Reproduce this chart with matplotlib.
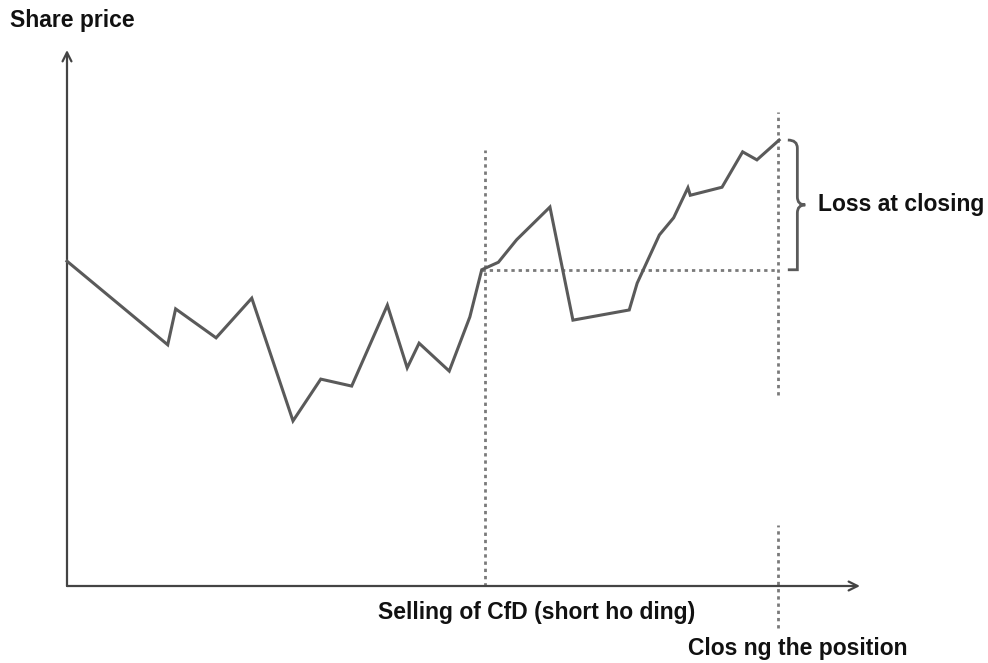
import matplotlib
matplotlib.use('Agg')
import matplotlib.pyplot as plt
from matplotlib.path import Path
from matplotlib.patches import PathPatch

# share price path (time units, price units; origin at axes corner)
t = [0, 12.7, 13.7, 18.8, 23.3, 28.5, 32.0, 35.9, 40.4, 42.9, 44.4, 48.2,
     50.8, 52.3, 54.4, 56.7, 60.9, 63.8, 70.9, 71.9, 74.7, 76.5, 78.3, 78.6,
     82.6, 85.2, 87.0, 89.8]
price = [60.6, 45.0, 51.7, 46.3, 53.7, 30.8, 38.6, 37.3, 52.4, 40.7, 45.3, 40.1,
         50.2, 59.0, 60.4, 64.6, 70.7, 49.6, 51.5, 56.5, 65.5, 68.7, 74.3, 72.9,
         74.4, 81.0, 79.5, 83.2]

t_sell = 52.7
t_close = 89.7
p_entry = 59.0
p_close = 83.2

label_y = "Share price"
label_sell = "Selling of CfD (short ho ding)"
label_close = "Clos ng the position"
label_loss = "Loss at closing"

plt.rcParams['font.family'] = ['Liberation Sans', 'DejaVu Sans']

W, H = 988, 663
fig = plt.figure(figsize=(W / 100, H / 100), dpi=100)
ax = fig.add_axes([67 / W, (H - 586) / H, (860 - 67) / W, (586 - 50) / H])
ax.set_xlim(0, 100)
ax.set_ylim(0, 100)
ax.axis('off')

line_c = '#5a5a5a'
dot_c = '#7a7a7a'
dots = (0, (1.2, 1.4))

# axes with arrows
ax.annotate('', xy=(100, 0), xytext=(0, 0),
            arrowprops=dict(arrowstyle='->', color='#444444', lw=1.6,
                            mutation_scale=16, shrinkA=0, shrinkB=0),
            annotation_clip=False)
ax.annotate('', xy=(0, 100), xytext=(0, 0),
            arrowprops=dict(arrowstyle='->', color='#444444', lw=1.6,
                            mutation_scale=16, shrinkA=0, shrinkB=0),
            annotation_clip=False)

# price line
ax.plot(t, price, color=line_c, lw=2.2, solid_joinstyle='miter', clip_on=False, zorder=3)

# dotted guides
ax.plot([t_sell, t_sell], [0, 81.3], color=dot_c, lw=2.0, ls=dots, clip_on=False)
ax.plot([t_close, t_close], [35.6, 88.4], color=dot_c, lw=2.0, ls=dots, clip_on=False)
ax.plot([t_close, t_close], [-7.8, 11.4], color=dot_c, lw=2.0, ls=dots, clip_on=False)
ax.plot([52.3, t_close], [p_entry, p_entry], color=dot_c, lw=2.0, ls=dots, clip_on=False)

# curly brace for the loss
bx0, bx1, btip = 90.9, 92.1, 93.1
mid = (p_entry + p_close) / 2
verts = [(bx0, p_close), (bx1, p_close), (bx1, p_close - 1.5), (bx1, p_close - 3),
         (bx1, mid + 1.5),
         (bx1, mid), (btip, mid), (btip, mid),
         (bx1, mid), (bx1, mid - 1.5),
         (bx1, p_entry + 3), (bx1, p_entry + 1.5), (bx1, p_entry), (bx0, p_entry)]
codes = [Path.MOVETO, Path.CURVE3, Path.CURVE3, Path.LINETO,
         Path.LINETO,
         Path.CURVE3, Path.CURVE3, Path.MOVETO,
         Path.CURVE3, Path.CURVE3,
         Path.LINETO, Path.CURVE3, Path.CURVE3, Path.LINETO]
ax.add_patch(PathPatch(Path(verts, codes), fill=False, edgecolor=line_c, lw=2.0,
                       clip_on=False))

ax.text(94.7, mid, label_loss, fontsize=16.5, fontweight='bold', color='#111111',
        ha='left', va='center', clip_on=False)

fig.text(10 / W, 1 - 20 / H, label_y, fontsize=16.5, fontweight='bold',
         color='#111111', ha='left', va='center')
fig.text(378 / W, 1 - 613 / H, label_sell, fontsize=16.5, fontweight='bold',
         color='#111111', ha='left', va='center')
fig.text(688 / W, 1 - 648 / H, label_close, fontsize=16.5, fontweight='bold',
         color='#111111', ha='left', va='center')

fig.savefig('out.png', dpi=100)
